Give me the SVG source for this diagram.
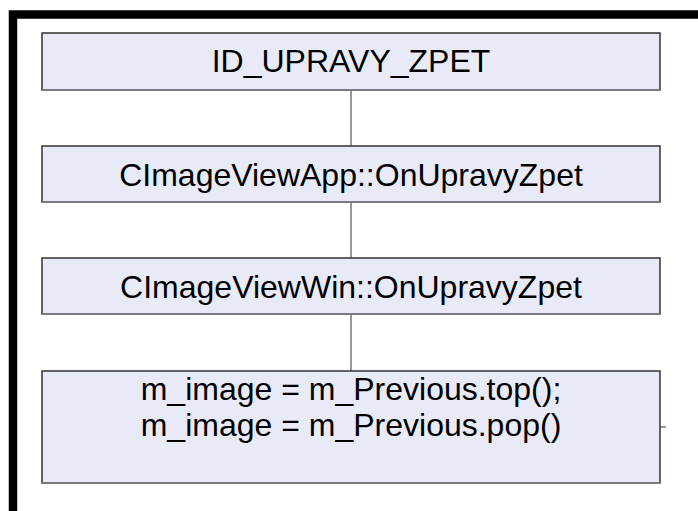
<svg xmlns="http://www.w3.org/2000/svg" width="698" height="511" viewBox="0 0 698 511">
  <style>
    .box { fill: #e8ebf7; stroke: #333333; stroke-width: 1.5; }
    .shade { stroke: #7a7a7a; stroke-width: 2; }
    .lbl { font-family: "Liberation Sans", Arial, sans-serif; font-size: 32px; fill: #000000; text-anchor: middle; }
    .wire { stroke: #777777; stroke-width: 1.5; fill: none; }
  </style>
  <rect x="0" y="0" width="698" height="511" fill="#ffffff"/>
  <!-- heavy frame along top and left -->
  <path d="M13 511 V14.5 H698" fill="none" stroke="#000000" stroke-width="8.5"/>

  <g id="connectors">
    <line class="wire" x1="351" y1="90" x2="351" y2="146"/>
    <line class="wire" x1="351" y1="202" x2="351" y2="258"/>
    <line class="wire" x1="351" y1="314" x2="351" y2="371"/>
    <line class="wire" x1="660" y1="427" x2="666" y2="427"/>
  </g>

  <g id="node-id-upravy-zpet">
    <rect class="box" x="42" y="33" width="618" height="57"/>
    <line class="shade" x1="42" y1="90" x2="660" y2="90"/>
    <text class="lbl" x="351" y="72">ID_UPRAVY_ZPET</text>
  </g>

  <g id="node-app">
    <rect class="box" x="42" y="146" width="618" height="56"/>
    <line class="shade" x1="42" y1="202" x2="660" y2="202"/>
    <text class="lbl" x="351" y="185.5">CImageViewApp::OnUpravyZpet</text>
  </g>

  <g id="node-win">
    <rect class="box" x="42" y="258" width="618" height="56"/>
    <line class="shade" x1="42" y1="314" x2="660" y2="314"/>
    <text class="lbl" x="351" y="297.5">CImageViewWin::OnUpravyZpet</text>
  </g>

  <g id="node-body">
    <rect class="box" x="42" y="371" width="618" height="112"/>
    <line class="shade" x1="42" y1="483" x2="660" y2="483"/>
    <text class="lbl" x="351" y="400">m_image = m_Previous.top();</text>
    <text class="lbl" x="351" y="436">m_image = m_Previous.pop()</text>
  </g>
</svg>
